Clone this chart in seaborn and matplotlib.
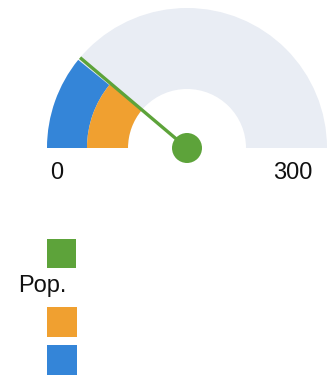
import matplotlib
matplotlib.use("Agg")
import matplotlib.pyplot as plt
from matplotlib.patches import Wedge, Circle, Rectangle
import numpy as np
import seaborn as sns

# Gauge data
scale_min, scale_max = 0, 300
tick_labels = ["0", "300"]
needle_value = 67            # "Pop." pointer
outer_band_value = 65        # blue band
inner_band_value = 66.5      # orange band
legend_labels = ["Pop."]

sns.set_theme(style="white")
plt.rcParams["font.family"] = ["Liberation Sans", "DejaVu Sans"]

c_track = "#E9EDF4"
c_blue = "#3485D8"
c_orange = "#F0A030"
c_green = "#5DA33A"

W, H, DPI = 336, 379, 100
fig = plt.figure(figsize=(W / DPI, H / DPI), dpi=DPI)
ax = fig.add_axes([0, 0, 1, 1])

# gauge geometry in pixel units (radius 1 == 140 px)
R_PX = 140.0
cx_px, cy_px = 187.0, 148.0
ax.set_xlim(-cx_px / R_PX, (W - cx_px) / R_PX)
ax.set_ylim(-(H - cy_px) / R_PX, cy_px / R_PX)
ax.axis("off")

r_outer = 1.0
r_mid = 100 / R_PX
r_inner = 59 / R_PX


def to_angle(v):
    """Map a gauge value to degrees (min at 180, max at 0)."""
    frac = (v - scale_min) / (scale_max - scale_min)
    return 180.0 - 180.0 * frac


# background track
ax.add_patch(Wedge((0, 0), r_outer, 0, 180, width=r_outer - r_inner,
                   facecolor=c_track, edgecolor="none"))
# blue outer band
ax.add_patch(Wedge((0, 0), r_outer, to_angle(outer_band_value), 180,
                   width=r_outer - r_mid, facecolor=c_blue, edgecolor="none"))
# orange inner band
ax.add_patch(Wedge((0, 0), r_mid, to_angle(inner_band_value), 180,
                   width=r_mid - r_inner, facecolor=c_orange, edgecolor="none"))

# needle
a = np.deg2rad(to_angle(needle_value))
ax.plot([0, np.cos(a) * r_outer], [0, np.sin(a) * r_outer],
        color=c_green, lw=2.4, solid_capstyle="butt", zorder=4)
ax.add_patch(Circle((0, 0), 15 / R_PX, facecolor=c_green, edgecolor="none", zorder=5))

# min / max labels
label_y = -(173 - cy_px) / R_PX
ax.text(-(cx_px - 57) / R_PX, label_y, tick_labels[0], ha="center", va="center",
        fontsize=17, color="#111111")
ax.text((293 - cx_px) / R_PX, label_y, tick_labels[1], ha="center", va="center",
        fontsize=17, color="#111111")


def px_rect(x0, y0, x1, y1, color):
    ax.add_patch(Rectangle(((x0 - cx_px) / R_PX, (cy_px - y1) / R_PX),
                           (x1 - x0) / R_PX, (y1 - y0) / R_PX,
                           facecolor=color, edgecolor="none"))


# legend
px_rect(47, 239, 76, 268, c_green)
ax.text((18 - cx_px) / R_PX, (cy_px - 286) / R_PX, legend_labels[0],
        ha="left", va="center", fontsize=17, color="#111111")
px_rect(47, 307, 77, 337, c_orange)
px_rect(47, 345, 77, 375, c_blue)

fig.savefig("out.png", dpi=DPI)
